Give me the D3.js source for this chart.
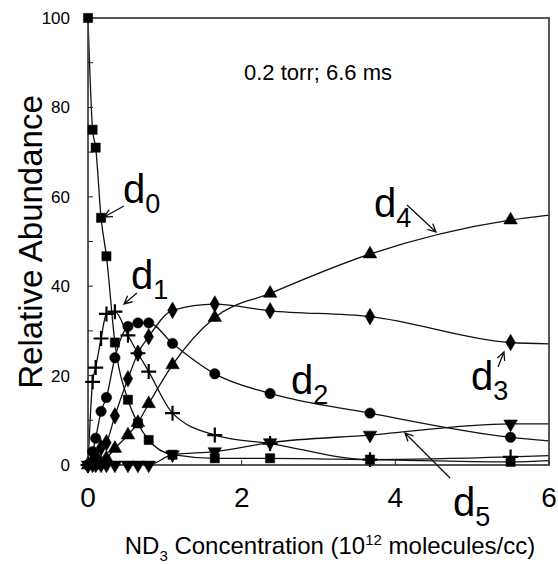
<!DOCTYPE html>
<html>
<head>
<meta charset="utf-8">
<script src="https://cdn.jsdelivr.net/npm/d3@7"></script>
<style>
body { margin: 0; background: #fff; }
text { font-family: Arial, "Liberation Sans", Helvetica, sans-serif; fill: #000; }
</style>
</head>
<body>
<svg id="chart" width="558" height="564"></svg>
<script>
// ND3 concentration (10^12 molecules/cc) for each measurement
var conc = [0, 0.06, 0.1, 0.17, 0.24, 0.35, 0.52, 0.65, 0.79, 1.1, 1.65, 2.37, 3.67, 5.5];

// relative abundance of each isotopomer
var d0Values = [100, 75, 71, 55.3, 46.7, 27.4, 14.6, 9.3, 5.6, 2.3, 1.5, 1.5, 1.2, 0.7];
var d1Values = [0, 18.6, 21.8, 28.3, 33.8, 34.3, 29, 25, 20.9, 11.6, 6.7, 4.8, 1.2, 1.8];
var d2Values = [0, 3, 6, 12, 15.1, 24, 31, 31.8, 31.8, 27.2, 20.4, 16, 11.6, 6.2];
var d3Values = [0, 1, 2, 3.9, 5, 11, 19.3, 25, 28.7, 34.6, 36, 34.5, 33.2, 27.4];
var d4Values = [0, 0, 0, 0.5, 1.5, 3.7, 6.7, 9.5, 13.7, 22.4, 33, 38.4, 47.2, 54.8];
var d5Values = [0, 0, 0, 0, 0, 0, 0, 0, 0, 2.3, 3, 5, 6.7, 9.2];

// where each fitted curve meets the right edge (x = 6)
var fitEnd = [1.0, 2.1, 5.4, 27.1, 55.9, 9.2];

var seriesNames = ["0", "1", "2", "3", "4", "5"];
var seriesValues = [d0Values, d1Values, d2Values, d3Values, d4Values, d5Values];
var seriesSymbols = ["square", "plus", "circle", "diamond", "triangle", "down"];

var xTicks = [0, 2, 4, 6];
var yTicks = [0, 10, 20, 30, 40, 50, 60, 70, 80, 90, 100];
var yLabels = [0, 20, 40, 60, 80, 100];

var svg = d3.select("#chart");
var plotLeft = 88, plotRight = 549, plotTop = 18, plotBottom = 465;

var x = d3.scaleLinear().domain([0, 6]).range([plotLeft, plotRight]);
var y = d3.scaleLinear().domain([0, 100]).range([plotBottom, plotTop]);

svg.append("defs").append("clipPath").attr("id", "plot")
    .append("rect")
    .attr("x", plotLeft).attr("y", plotTop - 6)
    .attr("width", plotRight - plotLeft).attr("height", plotBottom - plotTop + 6);

// curves
var line = d3.line()
    .x(function(d) { return x(d[0]); })
    .y(function(d) { return y(d[1]); })
    .curve(d3.curveMonotoneX);

for (var i = 0; i < seriesValues.length; i++) {
    var pts = conc.map(function(c, j) { return [c, seriesValues[i][j]]; });
    pts.push([6, fitEnd[i]]);
    svg.append("path")
        .attr("d", line(pts))
        .attr("clip-path", "url(#plot)")
        .attr("fill", "none")
        .attr("stroke", "#111")
        .attr("stroke-width", 1.3);
}

// frame
svg.append("rect")
    .attr("x", plotLeft).attr("y", plotTop)
    .attr("width", plotRight - plotLeft).attr("height", plotBottom - plotTop)
    .attr("fill", "none")
    .attr("stroke", "#444")
    .attr("stroke-width", 1.8);

// inward ticks
svg.selectAll(".ytick").data(yTicks).enter().append("line")
    .attr("x1", plotLeft).attr("x2", plotLeft + 5)
    .attr("y1", function(d) { return y(d); })
    .attr("y2", function(d) { return y(d); })
    .attr("stroke", "#222").attr("stroke-width", 1);
svg.selectAll(".xtick").data(xTicks).enter().append("line")
    .attr("x1", function(d) { return x(d); })
    .attr("x2", function(d) { return x(d); })
    .attr("y1", plotBottom).attr("y2", plotBottom - 5)
    .attr("stroke", "#222").attr("stroke-width", 1);

// tick labels
svg.selectAll(".ylab").data(yLabels).enter().append("text")
    .attr("x", 70)
    .attr("y", function(d) { return y(d); })
    .attr("dy", "0.35em")
    .attr("text-anchor", "end")
    .style("font-size", "17px")
    .text(function(d) { return d; });
svg.selectAll(".xlab").data(xTicks).enter().append("text")
    .attr("x", function(d) { return x(d); })
    .attr("y", 507)
    .attr("text-anchor", "middle")
    .style("font-size", "28px")
    .text(function(d) { return d; });

// markers
function markerPath(kind) {
    if (kind == "square") return d3.symbol(d3.symbolSquare, 85)();
    if (kind == "circle") return d3.symbol(d3.symbolCircle, 85)();
    if (kind == "diamond") return d3.symbol(d3.symbolDiamond, 80)();
    if (kind == "plus") return d3.symbol(d3.symbolPlus, 75)();
    return d3.symbol(d3.symbolTriangle, 80)();
}
for (var i = 0; i < seriesValues.length; i++) {
    var kind = seriesSymbols[i];
    var pts = conc.map(function(c, j) { return [c, seriesValues[i][j]]; });
    svg.append("g").selectAll("path").data(pts).enter().append("path")
        .attr("d", markerPath(kind))
        .attr("transform", function(d) {
            return "translate(" + x(d[0]) + "," + y(d[1]) + ")" + (kind == "down" ? " rotate(180)" : "");
        })
        .attr("fill", kind == "plus" ? "none" : "#000")
        .attr("stroke", "#000")
        .attr("stroke-width", kind == "plus" ? 2.2 : 0.5);
}

// series labels and their arrows
var labelPos = [
    {x: 123, y: 203}, {x: 131, y: 289}, {x: 291, y: 394},
    {x: 471, y: 390}, {x: 374, y: 217}, {x: 453, y: 516}
];
var arrows = [
    [124, 206, 104, 217], [137, 293, 124, 304], null,
    [498, 367, 504, 352], [407, 205, 436, 232], [450, 478, 405, 433]
];
for (var i = 0; i < seriesNames.length; i++) {
    var t = svg.append("text")
        .attr("x", labelPos[i].x).attr("y", labelPos[i].y)
        .style("font-size", "40px");
    t.append("tspan").text("d");
    t.append("tspan").attr("dy", 10).style("font-size", "27px").text(seriesNames[i]);
    var a = arrows[i];
    if (a) {
        var ang = Math.atan2(a[3] - a[1], a[2] - a[0]);
        var hl = 9, spread = 0.45;
        var p1 = [a[2] - hl * Math.cos(ang - spread), a[3] - hl * Math.sin(ang - spread)];
        var p2 = [a[2] - hl * Math.cos(ang + spread), a[3] - hl * Math.sin(ang + spread)];
        svg.append("path")
            .attr("d", "M" + a[0] + "," + a[1] + "L" + a[2] + "," + a[3] +
                "M" + p1[0] + "," + p1[1] + "L" + a[2] + "," + a[3] + "L" + p2[0] + "," + p2[1])
            .attr("fill", "none")
            .attr("stroke", "#111")
            .attr("stroke-width", 1.3);
    }
}

// condition note
svg.append("text")
    .attr("x", 318).attr("y", 80)
    .attr("text-anchor", "middle")
    .style("font-size", "22px")
    .text("0.2 torr; 6.6 ms");

// axis titles
svg.append("text")
    .attr("transform", "translate(42,242) rotate(-90)")
    .attr("text-anchor", "middle")
    .style("font-size", "33px")
    .text("Relative Abundance");

var xt = svg.append("text")
    .attr("x", 330).attr("y", 554)
    .attr("text-anchor", "middle")
    .style("font-size", "24px");
xt.append("tspan").text("ND");
xt.append("tspan").attr("dy", 7).style("font-size", "15px").text("3");
xt.append("tspan").attr("dy", -7).text(" Concentration (10");
xt.append("tspan").attr("dy", -9).style("font-size", "15px").text("12");
xt.append("tspan").attr("dy", 9).text(" molecules/cc)");
</script>
</body>
</html>
